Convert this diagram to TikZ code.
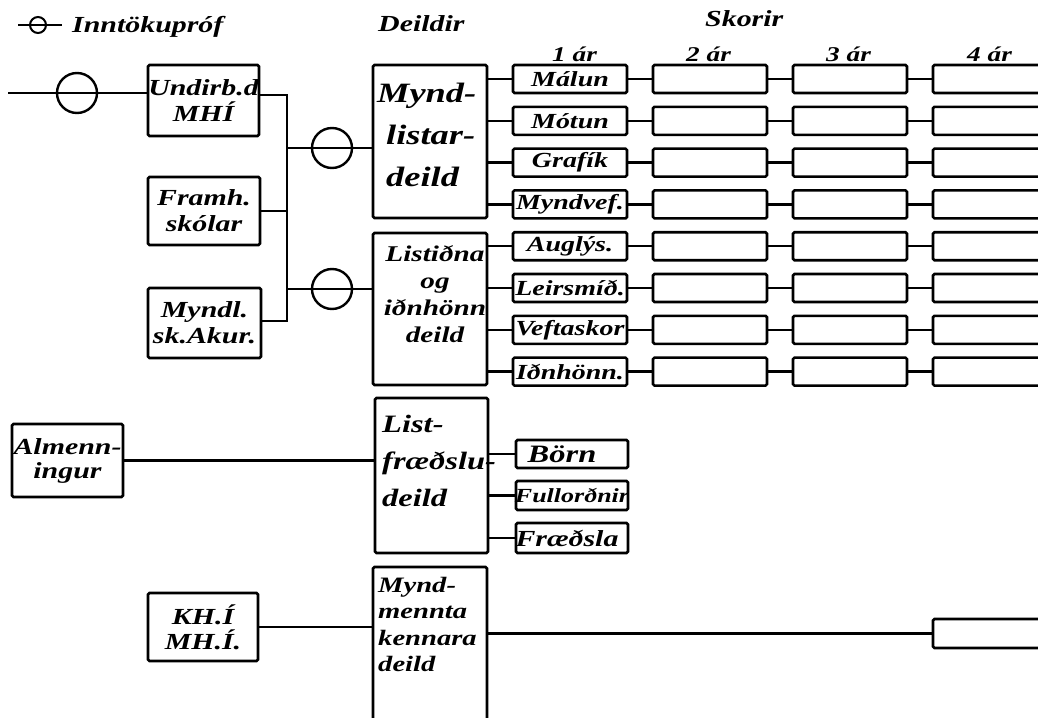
\documentclass[tikz,border=0pt]{standalone}
\usepackage{fontspec}
\newfontfamily\hand[FakeStretch=1.3]{Liberation Serif}
\newcommand\zbx[1]{\makebox[0pt]{#1}}
\tikzset{
  hf/.style={font=\hand\bfseries\itshape\fontsize{23}{26}\selectfont},
  box/.style={draw, line width=2.6pt, rounded corners=1.5pt, inner sep=0pt, hf, align=center},
  sbox/.style={box, minimum width=114pt, minimum height=28pt, font=\hand\bfseries\itshape\fontsize{21.5}{24}\selectfont},
  conn/.style={line width=2.5pt},
  ring/.style={draw, circle, line width=2.4pt, minimum size=40pt, inner sep=0pt},
  ttl/.style={hf, inner sep=0pt, anchor=base west},
  dtext/.style={inner sep=0pt},
}
\begin{document}
\begin{tikzpicture}[x=1pt, y=-1pt]
\useasboundingbox (0,0) rectangle (1038,717);

% headers
\node[draw, circle, minimum size=16pt, line width=2pt, inner sep=0pt] (hsym) at (38,25) {};
\draw[line width=2pt] ([xshift=-20pt]hsym.center) -- ([xshift=24pt]hsym.center);
\node[ttl] (hInn) at (72,33) {Inntökupróf};
\node[ttl] (hDeil) at (378,32) {Deildir};
\node[ttl] (hSko) at (705,27) {Skorir};
\node[ttl, font=\hand\bfseries\itshape\fontsize{21}{22}\selectfont] (h1) at (552,62) {1 ár};
\node[ttl, font=\hand\bfseries\itshape\fontsize{21}{22}\selectfont] (h2) at (686,62) {2 ár};
\node[ttl, font=\hand\bfseries\itshape\fontsize{21}{22}\selectfont] (h3) at (826,62) {3 ár};
\node[ttl, font=\hand\bfseries\itshape\fontsize{21}{22}\selectfont] (h4) at (967,62) {4 ár};

% left boxes
\node[box, minimum width=111pt, minimum height=71pt] (u) at (203.5,100.5) {\zbx{Undirb.d}\\MHÍ};
\node[box, minimum width=112pt, minimum height=68pt] (f) at (204,211) {Framh.\\skólar};
\node[box, minimum width=113pt, minimum height=70pt] (m) at (204.5,323) {\zbx{Myndl.}\\\zbx{sk.Akur.}};
\node[box, minimum width=111pt, minimum height=73pt, font=\hand\bfseries\itshape\fontsize{23}{24}\selectfont] (a) at (67.5,460.5) {\zbx{Almenn-}\\ingur};
\node[box, minimum width=110pt, minimum height=68pt, font=\hand\bfseries\itshape\fontsize{23}{25}\selectfont] (k) at (203,627) {KH.Í\\MH.Í.};

% department boxes
\node[box, minimum width=114pt, minimum height=153pt] (dA) at (430,141.5) {};
\node[box, minimum width=114pt, minimum height=152pt] (dB) at (430,309) {};
\node[box, minimum width=113pt, minimum height=155pt] (dC) at (431.5,475.5) {};
\node[box, minimum width=114pt, minimum height=163pt] (dD) at (430,648.5) {};

\node[dtext, anchor=north west, align=left, font=\hand\bfseries\itshape\fontsize{28}{42}\selectfont] (tA) at (377,83) {Mynd-\\\hspace*{9pt}listar-\\\hspace*{9pt}deild};
\node[dtext, anchor=north, align=center, font=\hand\bfseries\itshape\fontsize{22.5}{27}\selectfont] (tB) at (435,245) {Listiðna\\og\\iðnhönn\\deild};
\node[dtext, anchor=north west, align=left, font=\hand\bfseries\itshape\fontsize{25}{37}\selectfont] (tC) at (382,415) {List-\\fræðslu-\\deild};
\node[dtext, anchor=north west, align=left, font=\hand\bfseries\itshape\fontsize{22}{26.5}\selectfont] (tD) at (378,577) {Mynd-\\mennta\\kennara\\deild};

% input line and rings
\coordinate (in) at (8,93);
\draw[conn] (in) -- (u.west |- in);
\node[ring] (c0) at (77,93) {};
\coordinate (bt) at (287,95);
\coordinate (bb) at (287,321);
\draw[conn] (u.east |- bt) -- (bt) -- (bb) -- (m.east |- bb);
\draw[conn] (f.east) -- (f.east -| bt);
\coordinate (b1) at (287,148);
\coordinate (b2) at (287,289);
\draw[conn] (b1) -- (dA.west |- b1);
\draw[conn] (b2) -- (dB.west |- b2);
\node[ring] (c1) at (332,148) {};
\node[ring] (c2) at (332,289) {};

% rows of courses
\foreach \t [count=\i from 0] in {Málun,Mótun,Grafík,Myndvef.,Auglýs.,Leirsmíð.,Veftaskor,Iðnhönn.} {
  \pgfmathsetmacro\yy{79+41.8*\i}
  \node[sbox] (r\i-c0) at (570,\yy) {\zbx{\t}};
  \foreach \k in {1,2,3} {
    \node[sbox] (r\i-c\k) at ({570+140*\k},\yy) {};
  }
  \foreach \k [remember=\k as \lk (initially 0)] in {1,2,3} {
    \draw[conn] (r\i-c\lk.east) -- (r\i-c\k.west);
  }
}
\foreach \i in {0,1,2,3} { \draw[conn] (dA.east |- r\i-c0.west) -- (r\i-c0.west); }
\foreach \i in {4,5,6,7} { \draw[conn] (dB.east |- r\i-c0.west) -- (r\i-c0.west); }

% list-fraedsla
\node[box, minimum width=112pt, minimum height=28pt, font=\hand\bfseries\itshape\fontsize{25}{26}\selectfont] (p1) at (572,454) {\zbx{\hspace*{-20pt}Börn}};
\node[box, minimum width=112pt, minimum height=29pt, font=\hand\bfseries\itshape\fontsize{20}{22}\selectfont] (p2) at (572,495.5) {\zbx{Fullorðnir}};
\node[box, minimum width=112pt, minimum height=30pt, font=\hand\bfseries\itshape\fontsize{23}{24}\selectfont] (p3) at (572,538) {\zbx{\hspace*{-10pt}Fræðsla}};
\foreach \p in {p1,p2,p3} { \draw[conn] (dC.east |- \p.west) -- (\p.west); }
\draw[conn] (a.east) -- (a.east -| dC.west);

% myndmennta
\node[sbox, minimum height=29pt] (r8) at (990,633.5) {};
\draw[conn] (k.east) -- (k.east -| dD.west);
\draw[conn] (dD.east |- r8.west) -- (r8.west);
\end{tikzpicture}
\end{document}
